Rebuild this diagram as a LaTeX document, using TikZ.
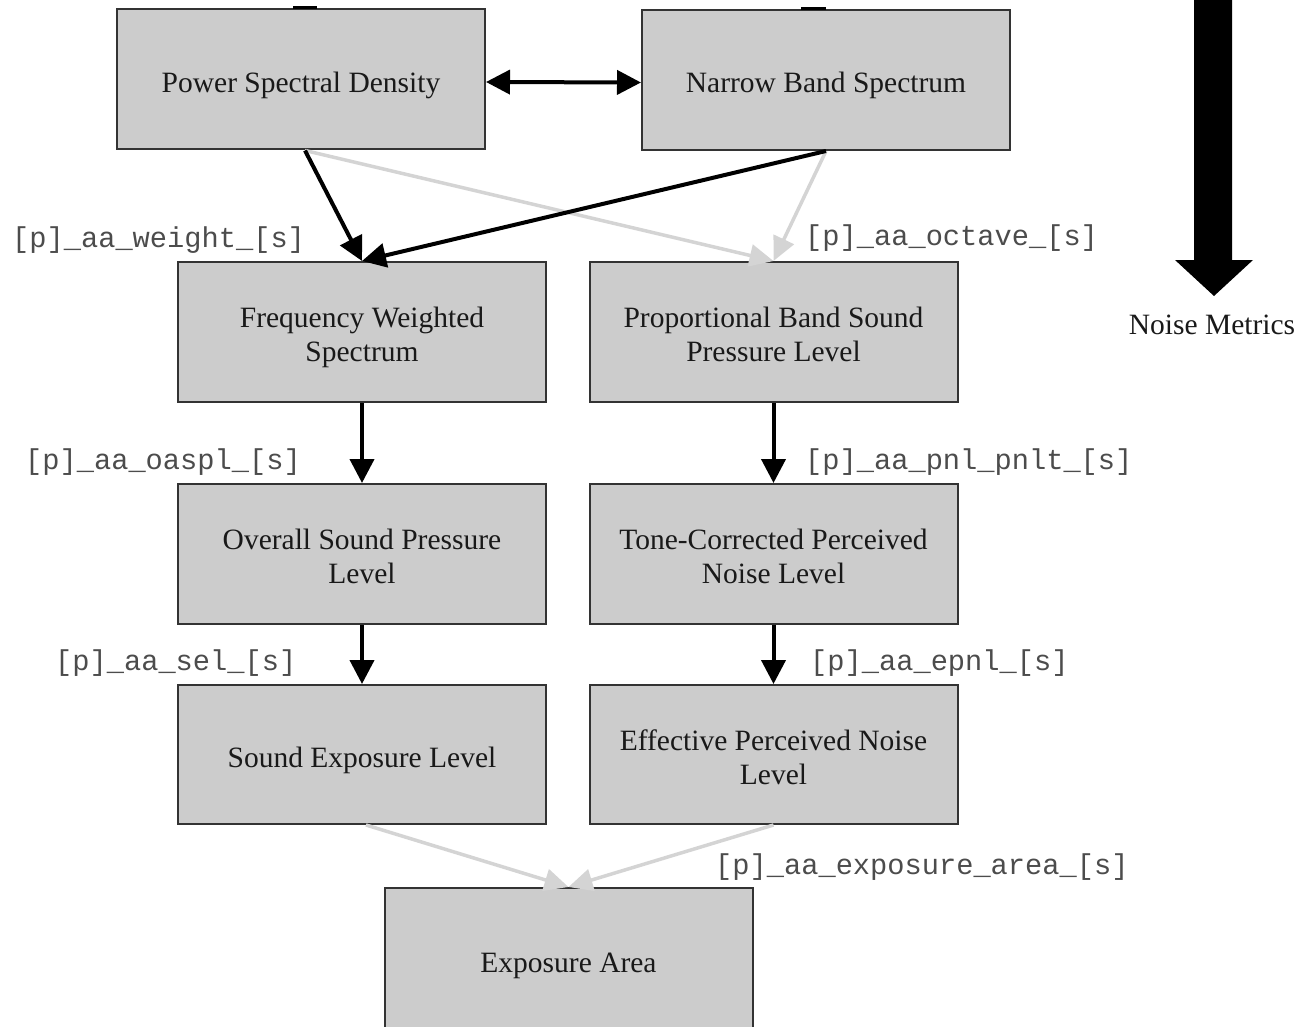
\documentclass[tikz,border=0pt]{standalone}
\usepackage{fontspec}
\setmainfont{Liberation Serif}
\newfontfamily\codefont{Liberation Mono}
\usetikzlibrary{arrows.meta,calc}

\tikzset{
  metricbox/.style={rectangle, draw=black!80, line width=2pt, fill=black!20,
    minimum width=368pt, minimum height=140pt},
  boxtext/.style={align=center, inner sep=0pt, yshift=-5pt,
    font=\fontsize{29.5}{34}\selectfont, text=black!90},
  codelabel/.style={anchor=west, inner sep=0pt, text=black!70,
    font=\codefont\fontsize{28.7}{32}\selectfont},
  darkflow/.style={draw=black, line width=4pt, -{Triangle[length=24pt,width=24pt]}},
  lightflow/.style={draw=black!17, line width=3.5pt, -{Triangle[length=24pt,width=22pt]}},
}

\begin{document}
\begin{tikzpicture}[x=1pt,y=-1pt]
\useasboundingbox (0,0) rectangle (1300,1027);

% metric boxes, each with its title centred inside
\node[metricbox, label={[boxtext,yshift=-1pt]center:Power Spectral Density}] (psd) at (301,79.5) {};
\node[metricbox, label={[boxtext]center:Narrow Band Spectrum}] (nbs) at (826,80) {};
\node[metricbox, label={[boxtext]center:Frequency Weighted\\Spectrum}] (fws) at (362,332) {};
\node[metricbox, label={[boxtext,yshift=3pt]center:Proportional Band Sound\\Pressure Level}] (pbs) at (773.5,332) {};
\node[metricbox, label={[boxtext,yshift=3pt]center:Overall Sound Pressure\\Level}] (ospl) at (362,554) {};
\node[metricbox, label={[boxtext,yshift=3pt]center:Tone-Corrected Perceived\\Noise Level}] (tcp) at (773.5,554) {};
\node[metricbox, minimum height=139pt, label={[boxtext,yshift=-1pt]center:Sound Exposure Level}] (sel) at (362,754.5) {};
\node[metricbox, minimum height=139pt, label={[boxtext,yshift=2pt]center:Effective Perceived Noise\\Level}] (epnl) at (773.5,754.5) {};
\node[metricbox, label={[boxtext,yshift=-3pt]center:Exposure Area}] (ea) at (568.5,958) {};

% incoming tips at the top edge
\fill[black] (293,6) rectangle (317,9);
\fill[black] (801,7) rectangle (826,10);

% connectors
\draw[darkflow, {Triangle[length=24pt,width=24pt]}-{Triangle[length=24pt,width=24pt]}]
  ([yshift=-2.5pt]psd.east) -- ([yshift=-2.5pt]nbs.west);
\draw[lightflow] ([xshift=4pt]psd.south) -- (pbs.north);
\draw[lightflow] (nbs.south) -- (pbs.north);
\draw[darkflow] ([xshift=4pt]psd.south) -- (fws.north);
\draw[darkflow] (nbs.south) -- (fws.north);
\draw[darkflow] (fws.south) -- (ospl.north);
\draw[darkflow] (pbs.south) -- (tcp.north);
\draw[darkflow] (ospl.south) -- (sel.north);
\draw[darkflow] (tcp.south) -- (epnl.north);
\draw[lightflow] ([xshift=4pt]sel.south) -- (ea.north);
\draw[lightflow] (epnl.south) -- (ea.north);

% function labels
\node[codelabel] (lw)  at (12,240)  {[p]\_aa\_weight\_[s]};
\node[codelabel] (lo)  at (805,238) {[p]\_aa\_octave\_[s]};
\node[codelabel] (la)  at (25,462)  {[p]\_aa\_oaspl\_[s]};
\node[codelabel] (lp)  at (805,462) {[p]\_aa\_pnl\_pnlt\_[s]};
\node[codelabel] (ls)  at (55,663)  {[p]\_aa\_sel\_[s]};
\node[codelabel] (le)  at (810,663) {[p]\_aa\_epnl\_[s]};
\node[codelabel] (lx)  at (715,867) {[p]\_aa\_exposure\_area\_[s]};

% direction marker
\fill[black] (1194,-2) -- (1232,-2) -- (1232,260) -- (1253,260) -- (1214,296)
  -- (1175,260) -- (1194,260) -- cycle;
\node[font=\fontsize{29.5}{34}\selectfont, text=black!90] (nm) at (1212,325) {Noise Metrics};
\end{tikzpicture}
\end{document}
